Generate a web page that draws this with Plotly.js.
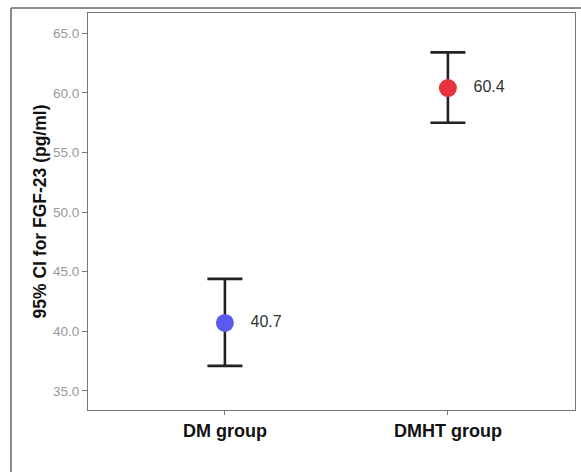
<!DOCTYPE html>
<html><head><meta charset="utf-8">
<script src="https://cdn.plot.ly/plotly-3.0.1.min.js"></script>
<style>html,body{margin:0;padding:0;background:#fff;}#chart{width:581px;height:472px;}</style>
</head><body><div id="chart"></div>
<script>
const groups = ["DM group", "DMHT group"];
const means = [40.7, 60.4];
const upperCI = [44.4, 63.4];
const lowerCI = [37.1, 57.5];
const colors = ["#5a5aee", "#e8333f"];
const yTicks = [35, 40, 45, 50, 55, 60, 65];

const traces = groups.map((g, i) => ({
  type: "scatter", mode: "markers+text",
  x: [g], y: [means[i]],
  text: ["   " + means[i].toFixed(1)],
  textposition: "middle right",
  textfont: {family: "Arial, Liberation Sans", size: 16, color: "#333"},
  marker: {size: 18, color: colors[i], line: {width: 0}},
  error_y: {type: "data", symmetric: false,
    array: [upperCI[i] - means[i]], arrayminus: [means[i] - lowerCI[i]],
    color: "#222", thickness: 2.6, width: 17.5},
  showlegend: false, cliponaxis: false
}));

const L = 88, T = 13, W = 487, H = 397;
const px = v => (v - L) / W, py = v => (T + H - v) / H;

const layout = {
  width: 581, height: 472,
  margin: {l: L, r: 581 - L - W, t: T, b: 472 - T - H},
  paper_bgcolor: "#fff", plot_bgcolor: "#fff",
  xaxis: {type: "category", range: [-0.614, 1.57], showgrid: false, zeroline: false,
    showline: true, linecolor: "#777", linewidth: 1, mirror: true,
    ticks: "outside", ticklen: 4, tickcolor: "#777",
    tickfont: {family: "Arial, Liberation Sans", size: 18, color: "#111", weight: "bold"}},
  yaxis: {range: [33.4, 66.7], tickvals: yTicks, ticktext: yTicks.map(v => v.toFixed(1)),
    showgrid: false, zeroline: false, showline: true, linecolor: "#777", linewidth: 1, mirror: true,
    ticks: "outside", ticklen: 5, tickcolor: "#777",
    tickfont: {family: "Arial, Liberation Sans", size: 13.5, color: "#999"},
    title: {text: "95% CI for FGF-23 (pg/ml)", standoff: 1,
      font: {family: "Arial, Liberation Sans", size: 17.5, color: "#111", weight: "bold"}}},
  shapes: [
    {type: "line", xref: "paper", yref: "paper", x0: px(11), x1: px(11), y0: py(8), y1: py(480), line: {color: "#666", width: 1.5}},
    {type: "line", xref: "paper", yref: "paper", x0: px(11), x1: px(590), y0: py(8), y1: py(8), line: {color: "#666", width: 1.5}}
  ]
};
Plotly.newPlot("chart", traces, layout, {displayModeBar: false, staticPlot: true});
</script></body></html>
